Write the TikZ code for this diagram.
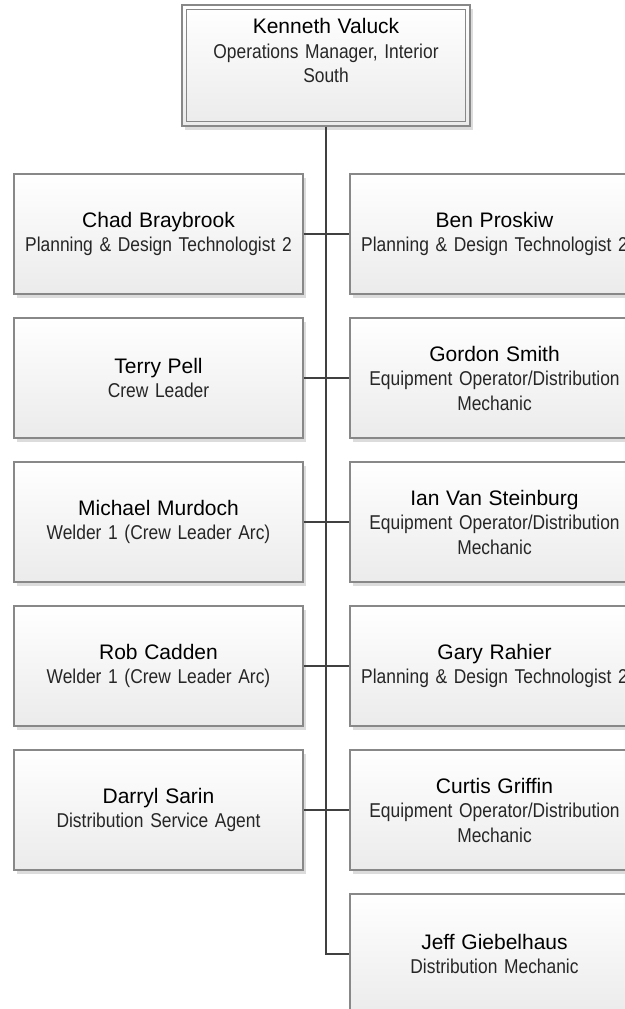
\documentclass[tikz,border=0pt]{standalone}
\usepackage{fontspec}
\setmainfont{Liberation Sans}
\newfontfamily\narrowfont[FakeStretch=0.87]{Liberation Sans}
\usetikzlibrary{shadows}
\definecolor{boxline}{HTML}{888888}
\definecolor{boxbottom}{HTML}{EBEBEB}
\definecolor{shadowgray}{HTML}{DCDCDC}
\definecolor{linkgray}{HTML}{404040}
\definecolor{titlegray}{HTML}{262626}
\newcommand{\person}[2]{{\fontsize{21}{24.5}\selectfont #1}\\{\narrowfont\color{titlegray}\fontsize{20}{24.5}\selectfont #2}}
\tikzset{
  cardbox/.style={draw=boxline, line width=1.2pt, rectangle,
    top color=white, bottom color=boxbottom,
    drop shadow={shadow xshift=3pt, shadow yshift=-4pt, fill=shadowgray, opacity=1},
    minimum width=289pt, minimum height=120pt, inner sep=0pt,
    text width=285pt, align=center,
    font=\fontsize{20}{24.5}\selectfont},
  headbox/.style={cardbox, minimum width=288pt, minimum height=121pt},
  link/.style={draw=linkgray, line width=2.4pt}
}
\begin{document}
\begin{tikzpicture}[x=1pt, y=-1pt]
  \useasboundingbox (0,0) rectangle (624,1009);

  % manager box with double border
  \node[headbox] (mgr) at (326,65.5) {};
  \draw[draw=boxline, line width=1.2pt]
    ([shift={(5pt,-5pt)}]mgr.north west) rectangle ([shift={(-5pt,5pt)}]mgr.south east);
  \node[anchor=north, align=center, text width=270pt, inner sep=0pt,
        font=\fontsize{20}{24.5}\selectfont] (mgrtext) at ([yshift=-14pt]mgr.north)
    {\person{Kenneth Valuck}{Operations Manager, Interior\\South}};

  % left column
  \node[cardbox] (chad)    at (158.5,234) {\person{Chad Braybrook}{Planning \& Design Technologist 2}};
  \node[cardbox] (terry)   at (158.5,378) {\person{Terry Pell}{Crew Leader}};
  \node[cardbox] (michael) at (158.5,522) {\person{Michael Murdoch}{Welder 1 (Crew Leader Arc)}};
  \node[cardbox] (rob)     at (158.5,666) {\person{Rob Cadden}{Welder 1 (Crew Leader Arc)}};
  \node[cardbox] (darryl)  at (158.5,810) {\person{Darryl Sarin}{Distribution Service Agent}};

  % right column
  \node[cardbox] (ben)    at (494.5,234) {\person{Ben Proskiw}{Planning \& Design Technologist 2}};
  \node[cardbox] (gordon) at (494.5,378) {\person{Gordon Smith}{Equipment Operator/Distribution\\Mechanic}};
  \node[cardbox] (ian)    at (494.5,522) {\person{Ian Van Steinburg}{Equipment Operator/Distribution\\Mechanic}};
  \node[cardbox] (gary)   at (494.5,666) {\person{Gary Rahier}{Planning \& Design Technologist 2}};
  \node[cardbox] (curtis) at (494.5,810) {\person{Curtis Griffin}{Equipment Operator/Distribution\\Mechanic}};
  \node[cardbox] (jeff)   at (494.5,954) {\person{Jeff Giebelhaus}{Distribution Mechanic}};

  % reporting lines
  \draw[link] (mgr.south) |- (jeff.west);
  \draw[link] (chad.east)    -- (ben.west);
  \draw[link] (terry.east)   -- (gordon.west);
  \draw[link] (michael.east) -- (ian.west);
  \draw[link] (rob.east)     -- (gary.west);
  \draw[link] (darryl.east)  -- (curtis.west);
\end{tikzpicture}
\end{document}
